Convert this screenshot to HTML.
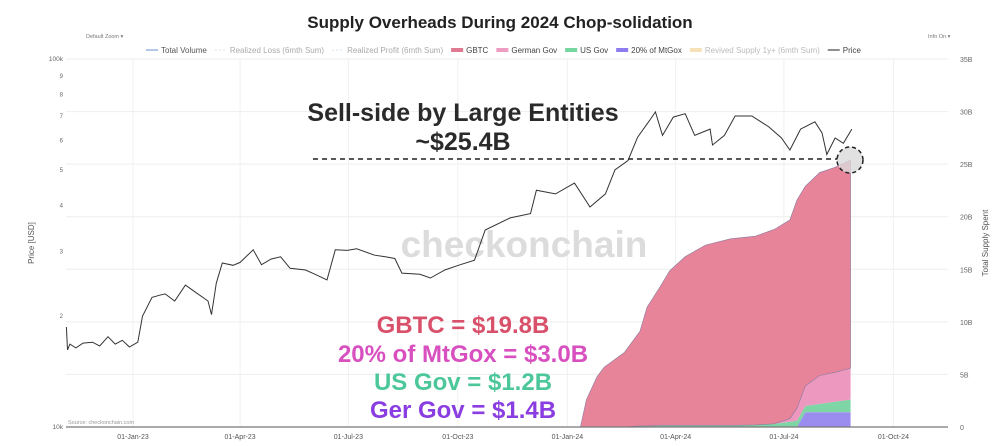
<!DOCTYPE html>
<html><head><meta charset="utf-8">
<style>
body{margin:0;background:#fff;width:1000px;height:446px;overflow:hidden;font-family:"Liberation Sans",sans-serif}
svg{display:block}
</style></head>
<body>
<svg id="chart" width="1000" height="446" viewBox="0 0 1000 446">
<text x="500" y="28" text-anchor="middle" font-size="17" font-weight="bold" fill="#222">Supply Overheads During 2024 Chop-solidation</text>
<text x="86" y="38" font-size="5.5" fill="#777">Default Zoom  ▾</text>
<text x="928" y="38" font-size="5.5" fill="#777">Info On  ▾</text>
<g id="legend"></g>
<g id="grid"></g>
<text x="524" y="257" text-anchor="middle" font-size="37" font-weight="bold" fill="#dcdcdc">checkonchain</text>
<g id="areas"></g>
<path id="price" fill="none" stroke="#333" stroke-width="1"/>
<g id="axes"></g>
<line x1="313" y1="159" x2="838" y2="159" stroke="#222" stroke-width="1.6" stroke-dasharray="5,4"/>
<circle cx="850" cy="160" r="13" fill="#d9d9d9" fill-opacity="0.8" stroke="#222" stroke-width="1.5" stroke-dasharray="4,3"/>
<text x="463" y="121" text-anchor="middle" font-size="25" font-weight="bold" fill="#2a2a2a">Sell-side by Large Entities</text>
<text x="463" y="150" text-anchor="middle" font-size="25" font-weight="bold" fill="#2a2a2a">~$25.4B</text>
<g font-size="24" font-weight="bold" text-anchor="middle">
<text x="463" y="333" fill="#d9506b">GBTC = $19.8B</text>
<text x="463" y="362" fill="#d84fbf">20% of MtGox = $3.0B</text>
<text x="463" y="390" fill="#4cc79a">US Gov = $1.2B</text>
<text x="463" y="418" fill="#8a3de0">Ger Gov = $1.4B</text>
</g>
<text x="68" y="424" font-size="5.5" fill="#999">Source: checkonchain.com</text>
</svg>
<script>
// ---- data (days since 2023-01-01) ----
const priceDays=[-56,-55,-53,-48,-42,-34,-28,-21,-15,-9,-3,4,8,16,22,27,35,44,52,63,66,70,75,84,90,101,108,116,124,132,145,153,163,170,180,188,203,212,220,226,241,250,262,275,287,296,317,334,339,355,371,384,397,405,416,424,434,439,445,454,464,472,485,487,497,506,520,534,545,552,561,573,579,583,590,597,604];
const priceK=[18.7,16.2,16.8,16.4,16.9,17.0,16.6,17.6,16.8,17.2,16.5,17.0,20.0,22.5,22.8,23.0,22.0,24.3,23.3,22.0,20.2,24.6,27.9,27.5,28.0,30.3,27.6,28.6,29.0,27.0,26.7,26.0,25.1,30.3,30.2,30.5,29.3,29.0,28.7,26.2,26.0,25.4,26.7,27.6,28.4,34.3,37.0,38.0,44.0,43.0,46.0,39.6,43.0,50.0,53.0,61.3,68.0,71.8,62.0,69.5,71.0,62.0,64.5,58.4,62.0,70.0,70.0,65.5,61.0,56.6,64.5,67.5,63.0,55.0,61.0,59.0,64.5];
const flowDays=[376,381,390,396,413,426,432,443,451,464,481,502,523,539,552,558,565,577,590,603];
const mtgoxB=[0,0,0,0,0,0,0,0,0,0,0,0,0,0,0,0,1.4,1.4,1.4,1.4];
const usGovB=[0,0,0,0,0,0.1,0.1,0.15,0.15,0.15,0.15,0.15,0.2,0.3,0.5,0.6,0.6,0.8,1.0,1.2];
const gerGovB=[0,0,0,0,0,0,0,0,0,0,0,0,0,0,0.3,1.2,1.9,2.7,2.8,3.0];
const gbtcB=[0,2.6,4.8,5.7,7.1,9.0,11.3,13.2,14.7,16.05,17.15,17.75,17.95,18.5,18.9,19.8,19.0,19.3,19.5,19.8];
const xTickDays=[0,90,181,273,365,456,547,639];
const xTickLabels=["01-Jan-23","01-Apr-23","01-Jul-23","01-Oct-23","01-Jan-24","01-Apr-24","01-Jul-24","01-Oct-24"];
const yLeftTicks=[10,20,30,40,50,60,70,80,90,100];
const yLeftLabels=["10k","2","3","4","5","6","7","8","9","100k"];
const yRightTicks=[0,5,10,15,20,25,30,35];
const yRightLabels=["0","5B","10B","15B","20B","25B","30B","35B"];
const legendNames=["Total Volume","Realized Loss (6mth Sum)","Realized Profit (6mth Sum)","GBTC","German Gov","US Gov","20% of MtGox","Revived Supply 1y+ (6mth Sum)","Price"];
// ---- scales ----
const L=66,R=948,T=59,B=427;
const x=d=>133+d*1.19;
const yP=k=>B-(Math.log10(k)-1)*(B-T);
const yS=v=>B-v*(B-T)/35;
const NS="http://www.w3.org/2000/svg";
function mk(tag,attrs,parent){const e=document.createElementNS(NS,tag);for(const k in attrs)e.setAttribute(k,attrs[k]);parent.appendChild(e);return e;}
const grid=document.getElementById('grid'),axes=document.getElementById('axes');
yRightTicks.forEach((v,i)=>{
 if(v>0){const g=mk('line',{x1:L,x2:R,y1:yS(v),y2:yS(v),stroke:'#eeeeee','stroke-width':1},grid);
 
 }
 const t=mk('text',{x:960,y:yS(v)+3,'font-size':7,fill:'#666'},axes);t.textContent=yRightLabels[i];
 
 
});
xTickDays.forEach((d,i)=>{
 const g=mk('line',{x1:x(d),x2:x(d),y1:T,y2:B,stroke:'#f0f0f0','stroke-width':1},grid);
 
 
 const t=mk('text',{x:x(d),y:439,'font-size':7,fill:'#555','text-anchor':'middle'},axes);t.textContent=xTickLabels[i];
 
 
});
yLeftTicks.forEach((v,i)=>{
 const t=mk('text',{x:63,y:yP(v)+2,'font-size':i==0||i==9?6.5:6,fill:'#666','text-anchor':'end'},axes);t.textContent=yLeftLabels[i];
 
 
});
const xl=mk('line',{x1:L,x2:R,y1:B,y2:B,stroke:'#777','stroke-width':1.2},axes);


const lt=mk('text',{x:34,y:243,'font-size':8,fill:'#555','text-anchor':'middle',transform:'rotate(-90 34 243)'},axes);lt.textContent='Price [USD]';


const rt=mk('text',{x:988,y:243,'font-size':8,fill:'#555','text-anchor':'middle',transform:'rotate(-90 988 243)'},axes);rt.textContent='Total Supply Spent';


// stacked areas
const layers=[[mtgoxB,'#9b8cf0','mtgox-area'],[usGovB,'#7ed6a6','us-gov-area'],[gerGovB,'#ec98bf','german-gov-area'],[gbtcB,'#e8849a','gbtc-area']];
const base=flowDays.map(()=>0);
const areas=document.getElementById('areas');
const drawOrder=[];
layers.forEach(([vals,col,name])=>{
 const lo=base.slice();const hi=lo.map((b,i)=>b+vals[i]);
 let d='M'+flowDays.map((f,i)=>x(f)+','+yS(hi[i])).join('L');
 for(let i=flowDays.length-1;i>=0;i--)d+='L'+x(flowDays[i])+','+yS(lo[i]);
 drawOrder.push([d+'Z',col,name]);
 hi.forEach((h,i)=>base[i]=h);
});
drawOrder.forEach(([d,col,name])=>{
 const p=mk('path',{d:d,fill:col,stroke:name=='gbtc-area'?'#8a7aa0':'none','stroke-width':0.6},areas);
 
 
});
// price line
document.getElementById('price').setAttribute('d','M'+priceDays.map((d,i)=>x(d).toFixed(1)+','+yP(priceK[i]).toFixed(1)).join('L'));
// legend
const lg=document.getElementById('legend');
const lcol=['#6a8fd0','#ddd','#d5e4ee','#e07a90','#ee9cc2','#76d6a0','#8c7cf0','#f6e2b8','#444'];
const lw=[1,1,1,4,4,4,4,4,1.2];
const ltxt=['#555','#aaa','#aaa','#444','#444','#444','#444','#bbb','#444'];
let lx=146;
legendNames.forEach((n,i)=>{
 const s=mk('line',{x1:lx,x2:lx+12,y1:50,y2:50,stroke:lcol[i],'stroke-width':lw[i],'stroke-dasharray':(i==1||i==2)?'2,2':'none'},lg);
 
 
 const t=mk('text',{x:lx+15,y:53,'font-size':8,fill:ltxt[i]},lg);t.textContent=n;
 
 
 lx+=15+t.getComputedTextLength()+8;
});
</script>
</body></html>
